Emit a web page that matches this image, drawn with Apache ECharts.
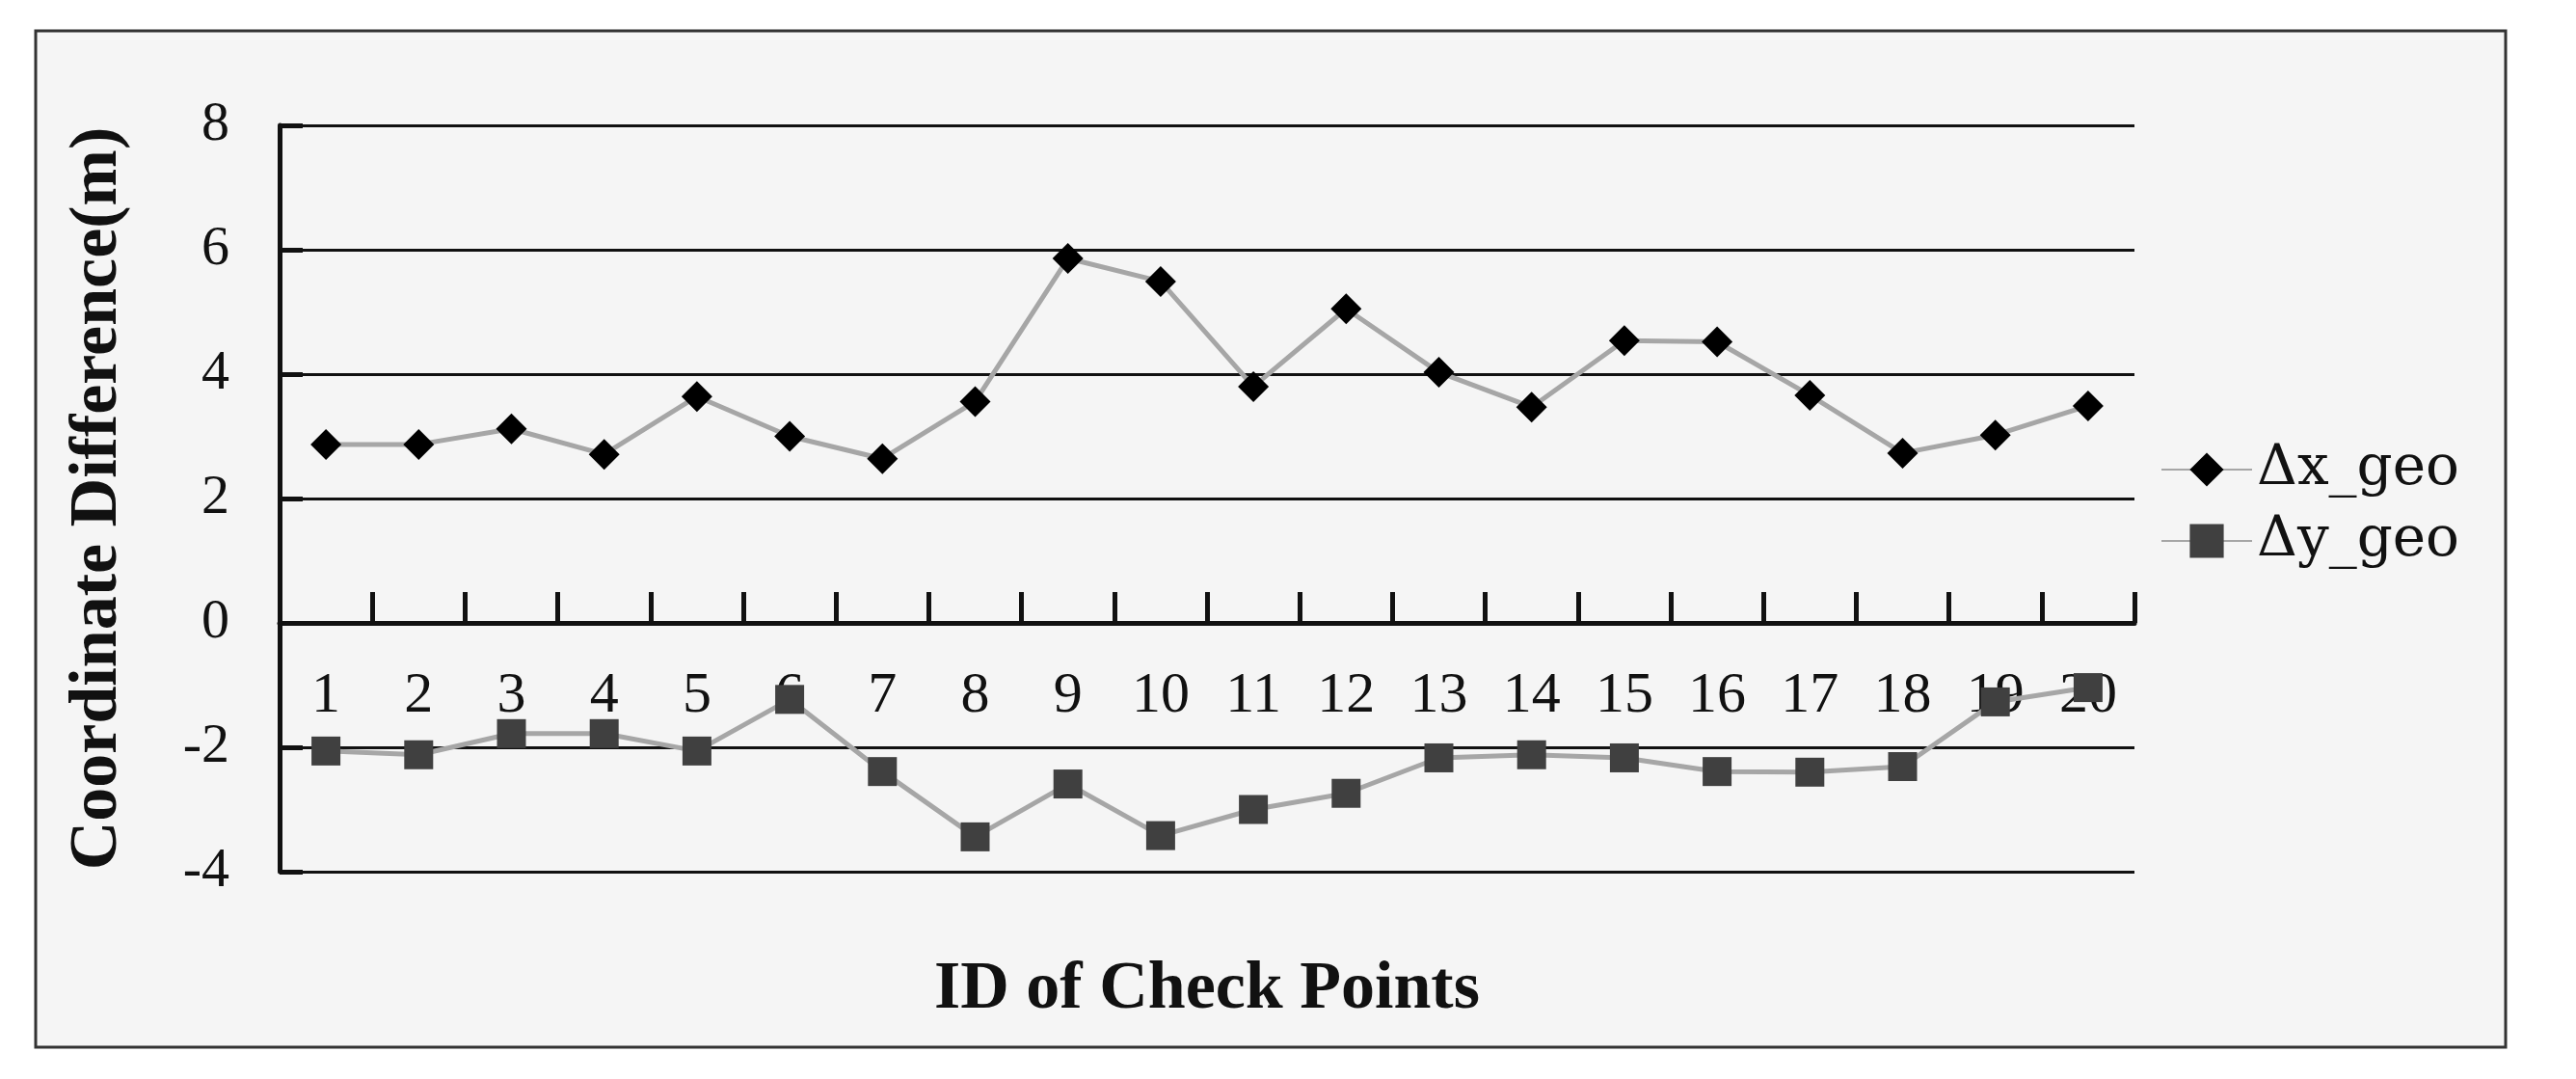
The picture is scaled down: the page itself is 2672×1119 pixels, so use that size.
<!DOCTYPE html>
<html>
<head>
<meta charset="utf-8">
<script src="https://cdn.jsdelivr.net/npm/echarts@6/dist/echarts.min.js"></script>
<style>
  html, body { margin: 0; padding: 0; background: #fff; }
  #chart { width: 2672px; height: 1119px; }
</style>
</head>
<body>
<div id="chart"></div>
<script>
// check point ids
var checkPoints = ['1','2','3','4','5','6','7','8','9','10','11','12','13','14','15','16','17','18','19','20'];
// differences in metres
var dxGeo = [2.87, 2.87, 3.12, 2.71, 3.64, 3.0, 2.64, 3.56, 5.86, 5.49, 3.8, 5.05, 4.03, 3.47, 4.54, 4.52, 3.66, 2.73, 3.02, 3.49];
var dyGeo = [-2.06, -2.12, -1.78, -1.78, -2.06, -1.23, -2.39, -3.44, -2.59, -3.42, -3.0, -2.74, -2.17, -2.12, -2.17, -2.39, -2.4, -2.31, -1.27, -1.04];

var serif = '"Liberation Serif", "DejaVu Serif", serif';
var chart = echarts.init(document.getElementById('chart'));

chart.setOption({
  backgroundColor: '#ffffff',
  animation: false,
  graphic: [{
    type: 'rect',
    z: -10,
    silent: true,
    shape: { x: 37, y: 32, width: 2562, height: 1054 },
    style: { fill: '#f5f5f5', stroke: '#333', lineWidth: 3 }
  }],
  legend: {
    orient: 'vertical',
    left: 2236,
    top: 452,
    itemWidth: 94,
    itemHeight: 44,
    itemGap: 14,
    textStyle: { fontFamily: '"DejaVu Serif", serif', fontSize: 58, color: '#111', lineHeight: 60 },
    data: ['Δx_geo', 'Δy_geo']
  },
  grid: { left: 290, right: 458, top: 130, bottom: 215, containLabel: false, outerBoundsMode: 'none' },
  xAxis: {
    type: 'category',
    data: checkPoints,
    boundaryGap: true,
    // axis sits on the zero line (4 units of 64.5px above the bottom)
    offset: -258,
    name: 'ID of Check Points',
    nameLocation: 'middle',
    nameGap: 346,
    nameTextStyle: { fontFamily: serif, fontSize: 70, fontWeight: 'bold', color: '#111' },
    axisLine: { show: true, onZero: false, lineStyle: { color: '#111', width: 5 } },
    axisTick: { show: true, inside: true, alignWithLabel: false, interval: 0, length: 32, lineStyle: { color: '#111', width: 5 } },
    axisLabel: { margin: 46, interval: 0, fontFamily: serif, fontSize: 60, color: '#111' },
    splitLine: { show: false }
  },
  yAxis: {
    type: 'value',
    min: -4,
    max: 8,
    interval: 2,
    name: 'Coordinate Difference(m)',
    nameLocation: 'middle',
    nameGap: 153,
    nameTextStyle: { fontFamily: serif, fontSize: 70, fontWeight: 'bold', color: '#111' },
    axisLine: { show: true, lineStyle: { color: '#111', width: 5 } },
    axisTick: { show: true, inside: true, length: 24, lineStyle: { color: '#111', width: 5 } },
    axisLabel: { margin: 52, fontFamily: serif, fontSize: 58, color: '#111' },
    splitLine: { show: true, lineStyle: { color: '#111', width: 3 } }
  },
  series: [
    {
      name: 'Δx_geo',
      type: 'line',
      data: dxGeo,
      symbol: 'diamond',
      symbolSize: 32,
      itemStyle: { color: '#000' },
      lineStyle: { color: '#a6a6a6', width: 5 }
    },
    {
      name: 'Δy_geo',
      type: 'line',
      data: dyGeo,
      symbol: 'rect',
      symbolSize: 30,
      itemStyle: { color: '#404040' },
      lineStyle: { color: '#a6a6a6', width: 5 }
    }
  ]
});
</script>
</body>
</html>
